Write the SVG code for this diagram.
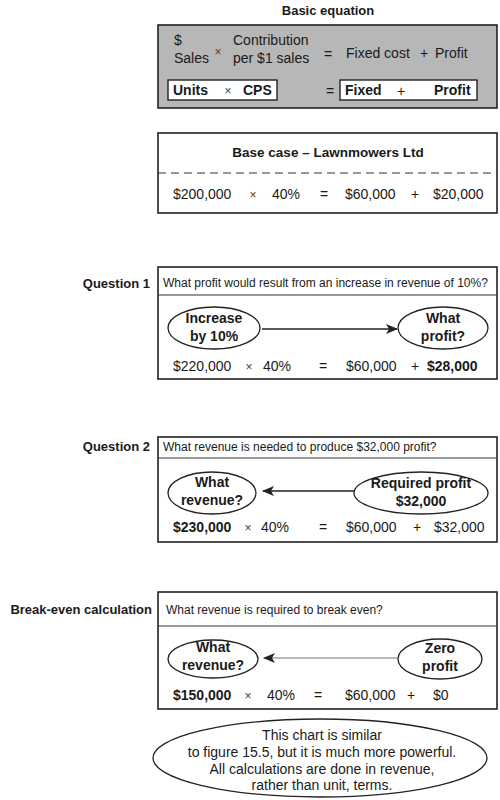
<svg xmlns="http://www.w3.org/2000/svg" width="500" height="800" viewBox="0 0 500 800">
<style>
text{font-family:"Liberation Sans",Arial,sans-serif;fill:#1a1a1a}
.t{font-size:14px}
.b{font-size:14px;font-weight:bold}
.q{font-size:12px}
.lbl{font-size:13px;font-weight:bold;text-anchor:end}
.x{font-size:12px;fill:#444;text-anchor:middle}
.m{text-anchor:middle}
.box{fill:#fff;stroke:#222;stroke-width:1.6}
.ell{fill:#fff;stroke:#222;stroke-width:1.3}
.div{stroke:#333;stroke-width:1.2}
</style>
<defs>
<marker id="ah" viewBox="0 0 12 10" refX="11" refY="5" markerWidth="12" markerHeight="10" markerUnits="userSpaceOnUse" orient="auto">
<path d="M0,0 L12,5 L0,10 L3,5 Z" fill="#222"/>
</marker>
</defs>
<rect width="500" height="800" fill="#fff"/>

<g id="basic-equation">
<text class="b m" x="328" y="15" style="font-size:13px">Basic equation</text>
<rect x="158" y="25" width="339" height="83" fill="#b7b7b7" stroke="#222" stroke-width="1.6"/>
<text class="t" x="174" y="45">$</text>
<text class="t" x="174" y="63">Sales</text>
<text class="x" x="218" y="56">×</text>
<text class="t" x="233" y="45">Contribution</text>
<text class="t" x="233" y="63">per $1 sales</text>
<text class="t m" x="328" y="59">=</text>
<text class="t" x="346" y="58">Fixed cost</text>
<text class="t m" x="424" y="58">+</text>
<text class="t" x="435" y="58">Profit</text>
<rect x="168" y="80" width="109" height="20" fill="#fff" stroke="#222" stroke-width="1.4"/>
<text class="b" x="173" y="95">Units</text>
<text class="x" x="228" y="95">×</text>
<text class="b" x="243" y="95">CPS</text>
<text class="t m" x="330" y="96">=</text>
<rect x="340" y="80" width="137" height="20" fill="#fff" stroke="#222" stroke-width="1.4"/>
<text class="b" x="345" y="95">Fixed</text>
<text class="t m" x="401" y="96">+</text>
<text class="b" x="434" y="95">Profit</text>
</g>

<g id="base-case">
<rect class="box" x="158" y="133" width="339" height="80"/>
<text class="b m" x="328" y="157" style="font-size:13.5px">Base case – Lawnmowers Ltd</text>
<line x1="158" y1="173" x2="497" y2="173" stroke="#333" stroke-width="1.2" stroke-dasharray="8 5"/>
<text class="t" x="173" y="199">$200,000</text>
<text class="x" x="253" y="199">×</text>
<text class="t" x="272" y="199">40%</text>
<text class="t m" x="324" y="199">=</text>
<text class="t" x="345" y="199">$60,000</text>
<text class="t m" x="415" y="199">+</text>
<text class="t" x="433" y="199">$20,000</text>
</g>

<g id="question-1">
<text class="lbl" x="150" y="288">Question 1</text>
<rect class="box" x="158" y="267" width="339" height="112"/>
<line class="div" x1="158" y1="295" x2="497" y2="295"/>
<text class="q" x="163" y="287">What profit would result from an increase in revenue of 10%?</text>
<g id="q1-increase">
<ellipse class="ell" cx="214" cy="328" rx="46" ry="21"/>
<text class="b m" x="214" y="323">Increase</text>
<text class="b m" x="214" y="341">by 10%</text>
</g>
<g id="q1-what-profit">
<ellipse class="ell" cx="443" cy="328" rx="45" ry="21"/>
<text class="b m" x="443" y="323">What</text>
<text class="b m" x="443" y="341">profit?</text>
</g>
<text class="t" x="173" y="371">$220,000</text>
<text class="x" x="249" y="371">×</text>
<text class="t" x="263" y="371">40%</text>
<text class="t m" x="323" y="371">=</text>
<text class="t" x="346" y="371">$60,000</text>
<text class="t m" x="415" y="371">+</text>
<text class="b" x="427" y="371">$28,000</text>
</g>

<g id="question-2">
<text class="lbl" x="150" y="451">Question 2</text>
<rect class="box" x="158" y="437" width="339" height="105"/>
<line class="div" x1="158" y1="458" x2="497" y2="458"/>
<text class="q" x="163" y="451">What revenue is needed to produce $32,000 profit?</text>
<g id="q2-what-revenue">
<ellipse class="ell" cx="212" cy="493" rx="44" ry="21"/>
<text class="b m" x="212" y="487">What</text>
<text class="b m" x="212" y="505">revenue?</text>
</g>
<g id="q2-required-profit">
<ellipse class="ell" cx="421" cy="493" rx="67" ry="21"/>
<text class="b m" x="421" y="488">Required profit</text>
<text class="b m" x="421" y="506">$32,000</text>
</g>
<text class="b" x="173" y="532">$230,000</text>
<text class="x" x="248" y="532">×</text>
<text class="t" x="261" y="532">40%</text>
<text class="t m" x="323" y="532">=</text>
<text class="t" x="346" y="532">$60,000</text>
<text class="t m" x="417" y="532">+</text>
<text class="t" x="434" y="532">$32,000</text>
</g>

<g id="break-even">
<text class="lbl" x="152" y="614">Break-even calculation</text>
<rect class="box" x="158" y="592" width="339" height="117"/>
<line class="div" x1="158" y1="626" x2="497" y2="626"/>
<text class="q" x="166" y="614">What revenue is required to break even?</text>
<g id="be-what-revenue">
<ellipse class="ell" cx="213" cy="659" rx="45" ry="19"/>
<text class="b m" x="213" y="652">What</text>
<text class="b m" x="213" y="670">revenue?</text>
</g>
<g id="be-zero-profit">
<ellipse class="ell" cx="440" cy="659" rx="42" ry="20"/>
<text class="b m" x="440" y="653">Zero</text>
<text class="b m" x="440" y="671">profit</text>
</g>
<text class="b" x="173" y="700">$150,000</text>
<text class="x" x="248" y="700">×</text>
<text class="t" x="267" y="700">40%</text>
<text class="t m" x="318" y="700">=</text>
<text class="t" x="345" y="700">$60,000</text>
<text class="t m" x="411" y="700">+</text>
<text class="t" x="433" y="700">$0</text>
</g>

<g id="note">
<ellipse class="ell" cx="320" cy="758" rx="167" ry="39" stroke-width="1.5"/>
<text class="t m" x="322" y="740">This chart is similar</text>
<text class="t m" x="322" y="757">to figure 15.5, but it is much more powerful.</text>
<text class="t m" x="322" y="774">All calculations are done in revenue,</text>
<text class="t m" x="322" y="790">rather than unit, terms.</text>
</g>

<g id="connectors">
<line x1="262" y1="329" x2="397" y2="329" stroke="#222" stroke-width="1.4" marker-end="url(#ah)"/>
<line x1="354" y1="491" x2="263" y2="491" stroke="#222" stroke-width="1.4" marker-end="url(#ah)"/>
<line x1="398" y1="658" x2="264" y2="658" stroke="#777" stroke-width="1" marker-end="url(#ah)"/>
</g>
</svg>
